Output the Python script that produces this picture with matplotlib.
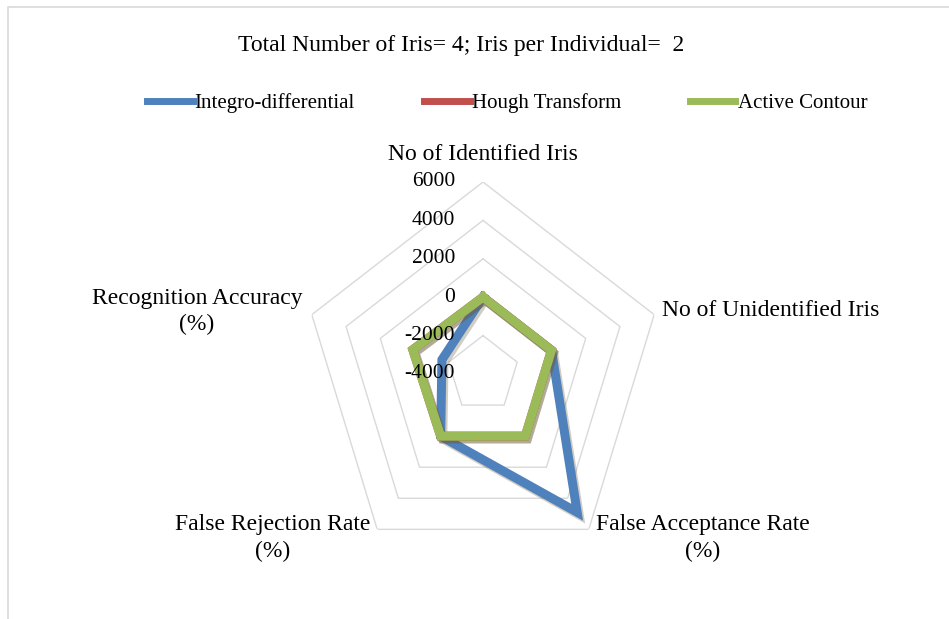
import numpy as np
import matplotlib
matplotlib.use("Agg")
import matplotlib.pyplot as plt
import matplotlib.patheffects as pe
from matplotlib.lines import Line2D
from matplotlib.patches import Rectangle

# data
categories = [
    "No of Identified Iris",
    "No of Unidentified Iris",
    "False Acceptance Rate\n(%)",
    "False Rejection Rate\n(%)",
    "Recognition Accuracy\n(%)",
]
integro = [2, 2, 4900, 0, -1600]
hough = [4, 0, 0, 0, 100]
active = [4, 0, 0, 0, 100]
series_names = ["Integro-differential", "Hough Transform", "Active Contour"]
series_colors = ["#4f81bd", "#c0504d", "#9bbb59"]
ring_values = [-2000, 0, 2000, 4000, 6000]
tick_values = [-4000, -2000, 0, 2000, 4000, 6000]
r_min, r_max = -4000, 6000

plt.rcParams["font.family"] = ["Liberation Serif", "DejaVu Serif"]

W, H = 949, 619
fig = plt.figure(figsize=(W / 100, H / 100), dpi=100)

# light frame of the original screenshot
fig.patches.append(Rectangle((8 / W, -0.05), 1.2, 1 - 7 / H + 0.05,
                             transform=fig.transFigure, fill=False,
                             edgecolor="#d9d9d9", linewidth=1.2))

# polar axes, stretched a little vertically like the source image
cx, cy, rx, ry = 483, 374, 180, 192
ax = fig.add_axes([(cx - rx) / W, 1 - (cy + ry) / H, 2 * rx / W, 2 * ry / H],
                  projection="polar")
ax.set_aspect("auto")
ax.set_theta_zero_location("N")
ax.set_theta_direction(-1)
ax.set_ylim(r_min, r_max)
ax.grid(False)
ax.set_xticks([])
ax.set_yticks([])
ax.spines["polar"].set_visible(False)
ax.patch.set_alpha(0)

n = len(categories)
angles = np.linspace(0, 2 * np.pi, n, endpoint=False)
closed = np.append(angles, angles[0])

for v in ring_values:
    ax.plot(closed, [v] * (n + 1), color="#d9d9d9", linewidth=1.0, zorder=1)

shadow = [pe.SimpleLineShadow(offset=(1.5, -2), alpha=0.3, shadow_color="#6b5a3a"),
          pe.Normal()]
for vals, color in zip([integro, hough, active], series_colors):
    ax.plot(closed, list(vals) + [vals[0]], color=color, linewidth=6.5,
            solid_joinstyle="miter", path_effects=shadow, zorder=3)

for v in tick_values:
    ax.annotate(str(v), xy=(0, v), xytext=(-28, 0), textcoords="offset pixels",
                ha="right", va="center", fontsize=15.5, zorder=4)

# category labels
fig.text(483 / W, 1 - 155 / H, categories[0], ha="center", va="center", fontsize=17)
fig.text(662 / W, 1 - 311 / H, categories[1], ha="left", va="center", fontsize=17)
fig.text(703 / W, 1 - 538 / H, categories[2], ha="center", va="center", fontsize=17,
         linespacing=1.32)
fig.text(273 / W, 1 - 538 / H, categories[3], ha="center", va="center", fontsize=17,
         linespacing=1.32)
fig.text(197 / W, 1 - 312 / H, categories[4], ha="center", va="center", fontsize=17,
         linespacing=1.3)

fig.text(461 / W, 1 - 45 / H, "Total Number of Iris= 4; Iris per Individual=  2",
         ha="center", va="center", fontsize=17)

handles = [Line2D([], [], color=c, linewidth=5) for c in series_colors]
fig.legend(handles, series_names, loc="center", bbox_to_anchor=(507 / W, 1 - 103 / H),
           ncol=3, frameon=False, fontsize=15, handlelength=2.2, handletextpad=0.1,
           columnspacing=3.3)

fig.savefig("out.png", dpi=100)
